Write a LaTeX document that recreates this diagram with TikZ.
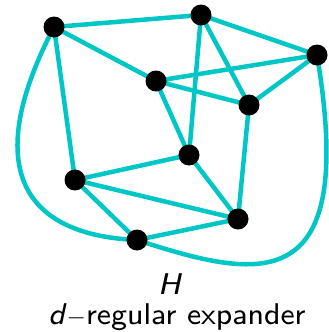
\documentclass[tikz,border=0pt]{standalone}
\usepackage{fontspec}
\newfontfamily\refsf{lmsans8-regular.otf}[ItalicFont=lmsans8-oblique.otf]
\begin{document}
\begin{tikzpicture}[x=1pt,y=-1pt,
  vtx/.style={circle,fill=black,inner sep=0pt,minimum size=21pt},
  edge/.style={draw=tealc,line width=4.5pt},
  lbl/.style={font=\refsf\fontsize{30}{30}\selectfont,inner sep=0pt,anchor=base}]
\definecolor{tealc}{RGB}{0,198,198}
\useasboundingbox (0,0) rectangle (329,332);
\coordinate (A) at (54,27);
\coordinate (B) at (201,15);
\coordinate (C) at (317,55);
\coordinate (D) at (156,81);
\coordinate (E) at (249,105);
\coordinate (F) at (189,155);
\coordinate (G) at (75,180);
\coordinate (H) at (238,219);
\coordinate (I) at (137,240);
\draw[edge] (A)--(B) (A)--(D) (A)--(G) (B)--(F) (B)--(E) (B)--(C)
  (D)--(C) (D)--(E) (D)--(F) (C)--(E) (E)--(H) (F)--(G) (F)--(H)
  (G)--(H) (G)--(I) (I)--(H);
\draw[edge] (A) .. controls (-18,165) and (20,235) .. (I);
\draw[edge] (C) .. controls (358,300) and (260,280) .. (I);
\foreach \n in {A,B,C,D,E,F,G,H,I} \node[vtx] (v\n) at (\n) {};
\node[lbl] (t1) at (170,294) {\textit{H}};
\node[lbl] (t2) at (177,324) {\textit{d}$-$regular expander};
\end{tikzpicture}
\end{document}
